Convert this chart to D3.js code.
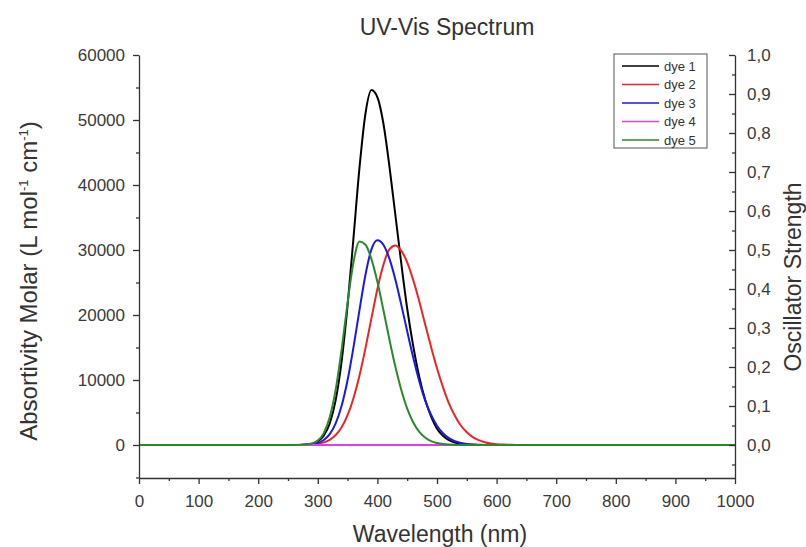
<!DOCTYPE html>
<html>
<head>
<meta charset="utf-8">
<script src="https://cdn.jsdelivr.net/npm/d3@7"></script>
<style>
  body { margin: 0; background: #fff; }
  svg text { font-family: "Liberation Sans", Arial, sans-serif; fill: #333; }
</style>
</head>
<body>
<div class="svg-container"></div>
<script>
'use strict';

// wavelength grid (nm) shared by every dye
var wavelengths = [0, 250, 260, 270, 280, 290, 300, 310, 320, 330, 340, 350, 360, 370, 380, 390,
  400, 410, 420, 430, 440, 450, 460, 470, 480, 490, 500, 510, 520, 530, 540, 550, 560, 570,
  580, 590, 600, 610, 620, 630, 640, 650, 660, 1000];

var dye1 = [0, 0, 0, 0, 60, 190, 550, 1430, 3300, 6900, 12900, 21500, 32000, 42700, 51000, 54600,
  53500, 49500, 43000, 35500, 28000, 21000, 15300, 10600, 7000, 4400, 2500, 1400, 740, 370, 180, 80, 35, 0,
  0, 0, 0, 0, 0, 0, 0, 0, 0, 0];
var dye2 = [0, 0, 0, 0, 30, 80, 180, 400, 800, 1530, 2730, 4590, 7240, 10700, 14900, 19500,
  24000, 27700, 30100, 30700, 29900, 28100, 25400, 22200, 18600, 15100, 11800, 8900, 6400, 4500, 3000, 1960, 1220, 740,
  430, 240, 130, 70, 35, 15, 0, 0, 0, 0];
var dye3 = [0, 0, 0, 0, 40, 120, 320, 770, 1670, 3320, 6030, 9990, 15100, 20800, 26200, 30100,
  31500, 30800, 28700, 25500, 21600, 17500, 13500, 9900, 6900, 4650, 2960, 1800, 1050, 580, 310, 150, 70, 30,
  0, 0, 0, 0, 0, 0, 0, 0, 0, 0];
var dye4 = [0, 0, 0, 0, 0, 0, 0, 0, 0, 0, 0, 0, 0, 0, 0, 0,
  0, 0, 0, 0, 0, 0, 0, 0, 0, 0, 0, 0, 0, 0, 0, 0, 0, 0,
  0, 0, 0, 0, 0, 0, 0, 0, 0, 0];
var dye5 = [0, 0, 0, 20, 60, 220, 680, 1830, 4250, 8500, 14700, 21900, 28200, 31300, 30800, 28600,
  25100, 20800, 16300, 12100, 8500, 5600, 3500, 2060, 1150, 600, 300, 140, 60, 25, 0, 0, 0, 0,
  0, 0, 0, 0, 0, 0, 0, 0, 0, 0];

var seriesNames = ['dye 1', 'dye 2', 'dye 3', 'dye 4', 'dye 5'];
var seriesValues = [dye1, dye2, dye3, dye4, dye5];
var seriesColors = ['#000000', '#ee2424', '#1a1ae6', '#e040e0', '#2a8a2a'];

var xTicks = [0, 100, 200, 300, 400, 500, 600, 700, 800, 900, 1000];
var yTicks = [0, 10000, 20000, 30000, 40000, 50000, 60000];
var y2Ticks = [0, 0.1, 0.2, 0.3, 0.4, 0.5, 0.6, 0.7, 0.8, 0.9, 1.0];

(function () {

  var width = 806,
      height = 547;

  var x = d3.scaleLinear().domain([0, 1000]).range([139, 735]);
  var y = d3.scaleLinear().domain([-5000, 60000]).range([477.5, 55]);
  var y2 = d3.scaleLinear().domain([-5 / 60, 1]).range([477.5, 55]);

  var svg = d3.select('.svg-container')
    .append('svg')
      .attr('width', width)
      .attr('height', height);

  // curves
  var line = d3.line()
      .x(function(d) { return x(d[0]); })
      .y(function(d) { return y(d[1]); })
      .curve(d3.curveMonotoneX);

  svg.append('g')
    .selectAll('path')
      .data(seriesValues)
    .enter().append('path')
      .attr('d', function(vals) {
        return line(wavelengths.map(function(w, i) { return [w, vals[i]]; }));
      })
      .style('fill', 'none')
      .style('stroke', function(d, i) { return seriesColors[i]; })
      .style('stroke-width', 2);

  // axes
  function styleAxis(g) {
    g.selectAll('path, line').style('stroke', '#333').style('stroke-width', 1.3);
    g.selectAll('text').style('font-size', '17px').style('fill', '#3a3a3a')
      .style('font-family', '"Liberation Sans", Arial, sans-serif');
  }

  svg.append('g')
      .attr('transform', 'translate(0,478)')
      .call(d3.axisBottom(x).tickValues(xTicks).tickSize(6).tickSizeOuter(0).tickPadding(11)
        .tickFormat(d3.format('d')))
      .call(styleAxis);
  svg.append('g')
      .attr('transform', 'translate(0,478)')
      .call(d3.axisBottom(x).tickValues(d3.range(50, 1000, 100)).tickSize(3).tickFormat(''))
      .call(function(g) { g.select('.domain').remove(); })
      .call(styleAxis);

  svg.append('g')
      .attr('transform', 'translate(139,0)')
      .call(d3.axisLeft(y).tickValues(yTicks).tickSize(6).tickSizeOuter(0).tickPadding(8)
        .tickFormat(d3.format('d')))
      .call(styleAxis);
  svg.append('g')
      .attr('transform', 'translate(139,0)')
      .call(d3.axisLeft(y).tickValues(d3.range(-5000, 60000, 10000)).tickSize(3).tickFormat(''))
      .call(function(g) { g.select('.domain').remove(); })
      .call(styleAxis);

  svg.append('g')
      .attr('transform', 'translate(735,0)')
      .call(d3.axisRight(y2).tickValues(y2Ticks).tickSize(-6).tickSizeOuter(0).tickPadding(12)
        .tickFormat(function(d) { return d3.format('.1f')(d).replace('.', ','); }))
      .call(styleAxis);
  svg.append('g')
      .attr('transform', 'translate(735,0)')
      .call(d3.axisRight(y2).tickValues(d3.range(-0.05, 1, 0.1)).tickSize(-3).tickFormat(''))
      .call(function(g) { g.select('.domain').remove(); })
      .call(styleAxis);

  // titles
  svg.append('text')
      .attr('x', 447).attr('y', 35)
      .attr('text-anchor', 'middle')
      .style('font-size', '23px')
      .text('UV-Vis Spectrum');

  svg.append('text')
      .attr('x', 440).attr('y', 542)
      .attr('text-anchor', 'middle')
      .style('font-size', '23px')
      .text('Wavelength (nm)');

  var yl = svg.append('text')
      .attr('transform', 'translate(37,281) rotate(-90)')
      .attr('text-anchor', 'middle')
      .style('font-size', '24px');
  yl.append('tspan').text('Absortivity Molar (L mol');
  yl.append('tspan').attr('dy', -9).style('font-size', '13px').text('-1');
  yl.append('tspan').attr('dy', 9).text(' cm');
  yl.append('tspan').attr('dy', -9).style('font-size', '13px').text('-1');
  yl.append('tspan').attr('dy', 9).text(')');

  svg.append('text')
      .attr('transform', 'translate(801,277) rotate(-90)')
      .attr('text-anchor', 'middle')
      .style('font-size', '23px')
      .text('Oscillator Strength');

  // legend
  var legend = svg.append('g').attr('transform', 'translate(614,54)');
  legend.append('rect')
      .attr('width', 93).attr('height', 94)
      .style('fill', '#fff')
      .style('stroke', '#555')
      .style('stroke-width', 1);
  var item = legend.selectAll('.item')
      .data(seriesNames)
    .enter().append('g')
      .attr('class', 'item')
      .attr('transform', function(d, i) { return 'translate(0,' + (12 + i * 18.5) + ')'; });
  item.append('line')
      .attr('x1', 8).attr('x2', 45)
      .style('stroke', function(d, i) { return seriesColors[i]; })
      .style('stroke-width', 1.5);
  item.append('text')
      .attr('x', 50).attr('dy', '0.35em')
      .style('font-size', '13px')
      .text(function(d) { return d; });

})();
</script>
</body>
</html>
